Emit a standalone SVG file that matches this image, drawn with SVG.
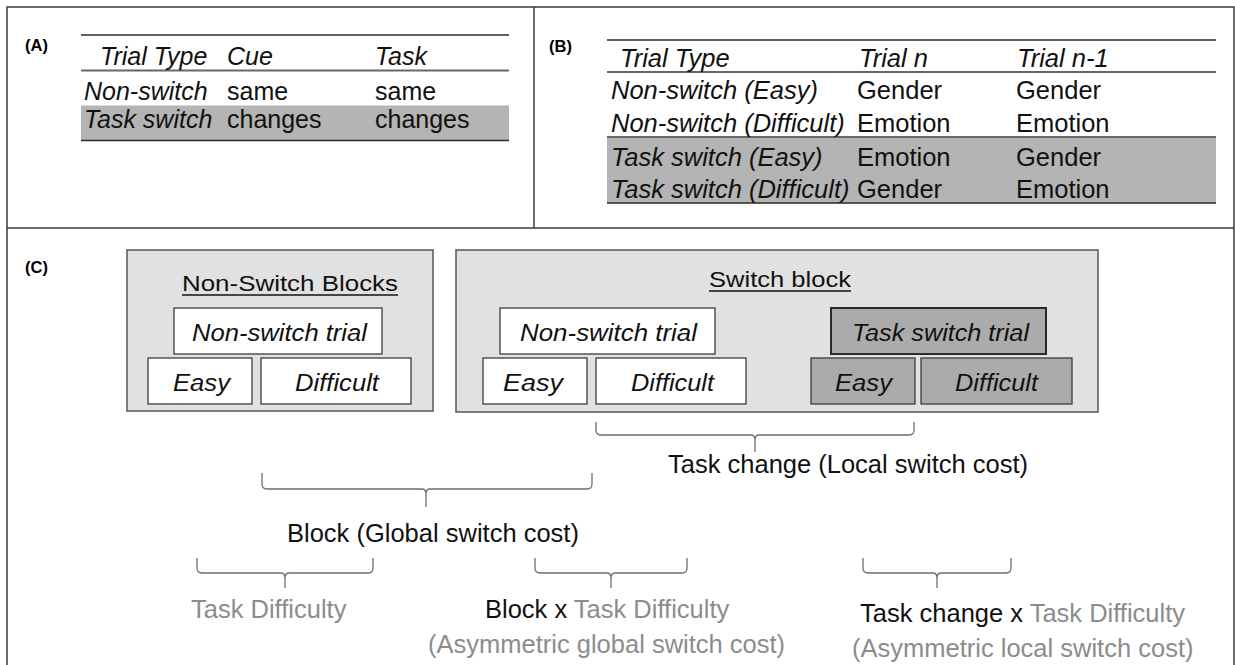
<svg xmlns="http://www.w3.org/2000/svg" width="1235" height="665" viewBox="0 0 1235 665">
  <style>
    .frame { fill: none; stroke: #3a3a3a; stroke-width: 1.5; }
    .lbl { font-family: "Liberation Sans", Arial, sans-serif; font-weight: bold; font-size: 16.5px; fill: #000; }
    .tbl { font-family: "Liberation Sans", Arial, sans-serif; font-size: 25px; fill: #111; }
    .tblB { font-size: 25.5px; }
    .it { font-style: italic; }
    .band { fill: #b4b4b4; }
    .rule { stroke: #2a2a2a; stroke-width: 1.3; }
    .rule2 { stroke: #666; stroke-width: 2; }
    .block { fill: #e1e1e1; stroke: #555; stroke-width: 1.5; }
    .cell { fill: #ffffff; stroke: #3c3c3c; stroke-width: 1.3; }
    .dark { fill: #ababab; }
    .thick { stroke: #2a2a2a; stroke-width: 2; }
    .boxtxt { font-family: "Liberation Sans", Arial, sans-serif; font-style: italic; font-size: 24.5px; fill: #111; text-anchor: middle; }
    .head { font-family: "Liberation Sans", Arial, sans-serif; font-size: 22px; fill: #111; text-anchor: middle; }
    .uline { stroke: #111; stroke-width: 1.6; }
    .brace { fill: none; stroke: #6e6e6e; stroke-width: 1.3; }
    .note { font-family: "Liberation Sans", Arial, sans-serif; font-size: 25.5px; fill: #111; }
    .muted { fill: #8c8c8c; }
  </style>

  <!-- outer frame and panel dividers -->
  <g id="frame">
    <path class="frame" d="M7,665 V7 H1234 V665"/>
    <line class="frame" x1="534" y1="7" x2="534" y2="228"/>
    <line class="frame" x1="7" y1="228" x2="1234" y2="228"/>
  </g>

  <!-- (A) cue / task table -->
  <g id="tableA">
    <text class="lbl" x="25" y="51">(A)</text>
    <rect class="band" x="81" y="105.5" width="428" height="35"/>
    <line class="rule" x1="81" y1="35" x2="509" y2="35"/>
    <line class="rule2" x1="81" y1="70.5" x2="509" y2="70.5"/>
    <line class="rule" x1="81" y1="140.5" x2="509" y2="140.5"/>
    <g class="tbl">
      <text class="it" x="100" y="65">Trial Type</text>
      <text class="it" x="227" y="65">Cue</text>
      <text class="it" x="375" y="65">Task</text>
      <text class="it" x="84" y="100">Non-switch</text>
      <text x="227" y="100">same</text>
      <text x="375" y="100">same</text>
      <text class="it" x="84" y="128">Task switch</text>
      <text x="227" y="128">changes</text>
      <text x="375" y="128">changes</text>
    </g>
  </g>

  <!-- (B) trial n / trial n-1 table -->
  <g id="tableB">
    <text class="lbl" x="549" y="52">(B)</text>
    <rect class="band" x="607" y="137" width="609" height="66"/>
    <line class="rule" x1="607" y1="40" x2="1216" y2="40"/>
    <line class="rule2" x1="607" y1="72" x2="1216" y2="72"/>
    <line class="rule2" x1="607" y1="137" x2="1216" y2="137"/>
    <line class="rule" x1="607" y1="203" x2="1216" y2="203"/>
    <g class="tbl tblB">
      <text class="it" x="620" y="67">Trial Type</text>
      <text class="it" x="859" y="67">Trial n</text>
      <text class="it" x="1017" y="67">Trial n-1</text>
      <text class="it" x="611" y="99">Non-switch (Easy)</text>
      <text x="857" y="99">Gender</text>
      <text x="1016" y="99">Gender</text>
      <text class="it" x="611" y="132">Non-switch (Difficult)</text>
      <text x="857" y="132">Emotion</text>
      <text x="1016" y="132">Emotion</text>
      <text class="it" x="611" y="166">Task switch (Easy)</text>
      <text x="857" y="166">Emotion</text>
      <text x="1016" y="166">Gender</text>
      <text class="it" x="611" y="198">Task switch (Difficult)</text>
      <text x="857" y="198">Gender</text>
      <text x="1016" y="198">Emotion</text>
    </g>
  </g>

  <text class="lbl" x="25" y="273">(C)</text>

  <!-- (C) non-switch blocks -->
  <g id="nonSwitchBlocks">
    <rect class="block" x="127" y="250" width="306" height="161"/>
    <text class="head" x="290" y="291" textLength="216" lengthAdjust="spacingAndGlyphs">Non-Switch Blocks</text>
    <line class="uline" x1="182" y1="295" x2="398" y2="295"/>
  </g>
  <g id="nsb-trial">
    <rect class="cell" x="174" y="308" width="208" height="46"/>
    <text class="boxtxt" x="279.5" y="341" textLength="175" lengthAdjust="spacingAndGlyphs">Non-switch trial</text>
  </g>
  <g id="nsb-easy">
    <rect class="cell" x="148" y="358" width="104" height="46"/>
    <text class="boxtxt" x="201.5" y="391" textLength="57" lengthAdjust="spacingAndGlyphs">Easy</text>
  </g>
  <g id="nsb-difficult">
    <rect class="cell" x="261" y="358" width="150" height="46"/>
    <text class="boxtxt" x="337" y="391" textLength="84" lengthAdjust="spacingAndGlyphs">Difficult</text>
  </g>

  <!-- (C) switch block -->
  <g id="switchBlock">
    <rect class="block" x="456" y="250" width="642" height="162"/>
    <text class="head" x="780" y="287" textLength="142" lengthAdjust="spacingAndGlyphs">Switch block</text>
    <line class="uline" x1="709" y1="291" x2="851" y2="291"/>
  </g>
  <g id="sb-nonswitch-trial">
    <rect class="cell" x="500" y="308" width="215" height="46"/>
    <text class="boxtxt" x="608.5" y="341" textLength="177" lengthAdjust="spacingAndGlyphs">Non-switch trial</text>
  </g>
  <g id="sb-ns-easy">
    <rect class="cell" x="483" y="358" width="104" height="46"/>
    <text class="boxtxt" x="533" y="391" textLength="60" lengthAdjust="spacingAndGlyphs">Easy</text>
  </g>
  <g id="sb-ns-difficult">
    <rect class="cell" x="596" y="358" width="150" height="46"/>
    <text class="boxtxt" x="672.5" y="391" textLength="83" lengthAdjust="spacingAndGlyphs">Difficult</text>
  </g>
  <g id="sb-switch-trial">
    <rect class="cell dark thick" x="831" y="308" width="215" height="46"/>
    <text class="boxtxt" x="940.5" y="341" textLength="177" lengthAdjust="spacingAndGlyphs">Task switch trial</text>
  </g>
  <g id="sb-sw-easy">
    <rect class="cell dark" x="811" y="358" width="104" height="46"/>
    <text class="boxtxt" x="863.5" y="391" textLength="57" lengthAdjust="spacingAndGlyphs">Easy</text>
  </g>
  <g id="sb-sw-difficult">
    <rect class="cell dark" x="921" y="358" width="151" height="46"/>
    <text class="boxtxt" x="996.5" y="391" textLength="83" lengthAdjust="spacingAndGlyphs">Difficult</text>
  </g>

  <!-- curly brackets grouping the conditions -->
  <g id="connectors">
    <path class="brace" d="M596,422 V430 Q596,435 601,435 H751 Q755,435 755,440 V452 M914,422 V430 Q914,435 909,435 H759 Q755,435 755,440"/>
    <path class="brace" d="M262,473 V484 Q262,489 267,489 H422 Q426,489 426,494 V507 M592,473 V484 Q592,489 587,489 H430 Q426,489 426,494"/>
    <path class="brace" d="M197,558 V568 Q197,573 202,573 H281 Q285,573 285,578 V588 M373,558 V568 Q373,573 368,573 H289 Q285,573 285,578"/>
    <path class="brace" d="M535,558 V568 Q535,573 540,573 H607 Q611,573 611,578 V588 M687,558 V568 Q687,573 682,573 H615 Q611,573 611,578"/>
    <path class="brace" d="M863,558 V568 Q863,573 868,573 H933 Q937,573 937,578 V588 M1011,558 V568 Q1011,573 1006,573 H941 Q937,573 937,578"/>
  </g>

  <!-- effect labels -->
  <g id="effects" class="note">
    <text x="668" y="473">Task change (Local switch cost)</text>
    <text x="287" y="542">Block (Global switch cost)</text>
    <text class="muted" x="191" y="618">Task Difficulty</text>
    <text x="485" y="618">Block x <tspan class="muted">Task Difficulty</tspan></text>
    <text class="muted" x="428" y="653">(Asymmetric global switch cost)</text>
    <text x="860" y="622">Task change x <tspan class="muted">Task Difficulty</tspan></text>
    <text class="muted" x="852" y="657">(Asymmetric local switch cost)</text>
  </g>
</svg>
